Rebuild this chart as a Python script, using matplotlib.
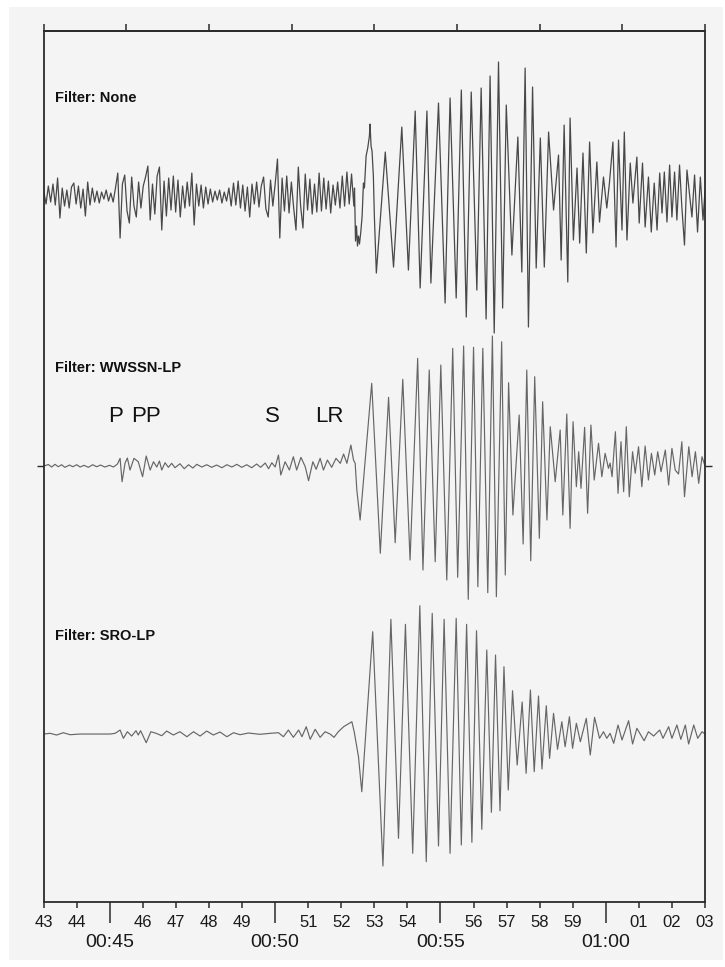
import numpy as np
import matplotlib.pyplot as plt
from matplotlib.patches import Rectangle

plt.rcParams['font.family'] = ['Liberation Sans', 'DejaVu Sans']

# trace 1, unfiltered: pre-arrival noise, one sample every NOISE_STEP minutes from 43:00
NOISE_STEP = 0.07
NONE_NOISE = [5, -8, 10, -6, 12, -9, 18, -22, 8, -10, 6, -12, 9, 13, -8, 10,
              -12, 7, -20, 14, -9, 8, -6, 5, -7, 4, -3, 6, -5, 3, -6, 8, 23,
              -42, 12, 21, -15, -27, 19, -10, -21, 14, -12, 10, 19, 30, -24,
              12, -18, 20, 29, -34, 15, -20, 18, -14, 20, -16, 16, -21, 10,
              -12, 14, -10, 23, -29, 12, -10, 11, -12, 9, -8, 7, -6, 5, -4, 6,
              -7, 4, -5, 8, -10, 13, -9, 15, -12, 11, -15, 9, -21, 12, -8, 14,
              -11, 10, 19, -13, -21, 16, -10, 12, 37, -42, 18, -15, 20, -17,
              14, -12, -34, 29, -10, -32, 22, -14, 17, -18, 12, -16, 23, -15,
              18, -13, 15, -17, 11, -9, 14, -12, 20, -10, 24, -8, 22, -10]

# trace 1 after the surface wave arrival (minutes, amplitude)
NONE_T = [52.40, 52.43, 52.46, 52.49, 52.52, 52.55, 52.59, 52.63, 52.67, 52.70,
          52.75, 52.80, 52.85, 52.87, 52.90, 52.93, 52.97, 53.00, 53.06, 53.33,
          53.58, 53.83, 54.03, 54.235, 54.385, 54.59, 54.71, 54.94, 55.14,
          55.29, 55.475, 55.63, 55.78, 55.93, 56.10, 56.23, 56.38, 56.50,
          56.625, 56.755, 56.88, 56.99, 57.16, 57.26, 57.34, 57.46, 57.56,
          57.66, 57.785, 57.895, 58.02, 58.14, 58.27, 58.42, 58.57, 58.65,
          58.74, 58.85, 58.92, 59.02, 59.13, 59.21, 59.31, 59.41, 59.51, 59.61,
          59.73, 59.81, 59.93, 60.03, 60.11, 60.215, 60.31, 60.385, 60.49,
          60.56, 60.64, 60.74, 60.82, 60.94, 61.01, 61.11, 61.19, 61.29,
          61.375, 61.465, 61.55, 61.63, 61.70, 61.77, 61.85, 61.93, 62.00,
          62.08, 62.15, 62.23, 62.30, 62.38, 62.455, 62.605, 62.685, 62.775,
          62.86, 62.94, 63.00]
NONE_AMP = [8, -45, -30, -50, -40, -48, -36, -20, 13, 8, 40, 48, 60, 72, 50,
            45, 20, -20, -77, 44, -71, 69, -74, 85, -92, 85, -87, 93, -107, 98,
            -102, 106, -121, 104, -94, 108, -123, 120, -137, 134, -112, 91,
            -59, 6, 59, -76, 128, -131, 109, -72, 58, -71, 64, -14, 41, -64,
            71, -86, 78, -44, 28, -47, 43, -57, 54, -37, 34, -26, 19, -12, 13,
            54, -51, 56, -34, 64, -44, 33, -7, 39, -27, 33, -31, 19, -36, 13,
            -34, 23, -17, 24, -26, 31, -21, 24, -24, 31, -11, -49, 26, -21, 21,
            -36, 19, -24, 5]

# trace 2, WWSSN-LP
WWSSN_T = [43.00, 43.14, 43.24, 43.34, 43.44, 43.54, 43.64, 43.78, 43.88, 44.00,
           44.10, 44.22, 44.35, 44.48, 44.60, 44.72, 44.85, 44.99, 45.11, 45.23,
           45.31, 45.37, 45.46, 45.53, 45.61, 45.73, 45.86, 45.99, 46.10, 46.22,
           46.32, 46.42, 46.50, 46.57, 46.67, 46.77, 46.87, 46.97, 47.12, 47.25,
           47.38, 47.51, 47.63, 47.78, 47.93, 48.08, 48.23, 48.39, 48.54, 48.69,
           48.84, 48.99, 49.14, 49.29, 49.44, 49.56, 49.70, 49.80, 49.90, 50.00,
           50.10, 50.17, 50.30, 50.43, 50.55, 50.65, 50.78, 50.91, 51.01, 51.14,
           51.24, 51.36, 51.46, 51.58, 51.71, 51.84, 51.97, 52.07, 52.17, 52.29,
           52.37, 52.42, 52.47, 52.57, 52.92, 53.18, 53.43, 53.63, 53.86, 54.08,
           54.31, 54.47, 54.66, 54.84, 55.01, 55.19, 55.37, 55.52, 55.70, 55.84,
           56.00, 56.13, 56.28, 56.43, 56.57, 56.69, 56.85, 56.96, 57.06, 57.19,
           57.38, 57.50, 57.61, 57.73, 57.85, 57.99, 58.09, 58.22, 58.32, 58.47,
           58.62, 58.70, 58.82, 58.92, 59.01, 59.11, 59.18, 59.25, 59.36, 59.45,
           59.55, 59.65, 59.78, 59.88, 59.98, 60.08, 60.13, 60.19, 60.29, 60.37,
           60.46, 60.54, 60.62, 60.71, 60.81, 60.89, 60.99, 61.09, 61.19, 61.29,
           61.38, 61.48, 61.57, 61.67, 61.80, 61.90, 62.00, 62.10, 62.20, 62.30,
           62.38, 62.51, 62.61, 62.71, 62.81, 62.91, 63.00]
WWSSN_AMP = [0, 1.5, -1, 1.7, -0.7, 1.3, -1.3, 1, -0.7, 1.3, -1, 0.7, -1.3, 1.3,
             -0.7, 1, -1, 0.7, -1, 2, 7.7, -15.7, 3, 8, -4, 7.7, 4.3, -10.7, 10,
             -4, 4.3, -1, 5, -4, 3.3, -1.3, 2.7, -1.7, 2.3, -2.7, 1.3, -2, 1.7,
             -1, 1.3, -1.3, 1, -1.7, 1.3, -1, 1.7, -1.3, 1.3, -1.7, 2, -1.3, 3,
             -2.7, 3.3, -1, 11, -9, 4.3, -4, 9.3, -4, 8.7, -0.7, -14.7, 4.3,
             -3.3, 7.7, -4, 6, -1.3, 7.7, 2.7, 12, 2.7, 21, 6, 2.7, -24, -54,
             82.7, -87.3, 68.7, -76.7, 86.7, -94, 107.7, -104, 96, -95.7, 101,
             -114, 117.7, -111.3, 120, -133.3, 118.7, -120.7, 117.7, -126.7,
             130, -130.7, 124.3, -109, 83.3, -49, 51, -78, 96, -94.7, 89.3,
             -72.3, 64.3, -54, 39.3, -15.7, 36, -49, 52, -62.3, 44.3, -20.7,
             14.3, -22.3, 38.7, -47.3, 41, -14, 22.7, -10.7, 12.7, -2.3, 3,
             -10.7, 34.3, -27.3, 24.3, -25.7, 39.3, -30.7, 14.3, -7.3, 19.3,
             -20.7, 20, -14, 12.7, -9, 14.3, -5.7, 16, -19, 17.7, -4, -8, 24.3,
             -30.7, 19.3, -10.7, 14.3, -17.3, 9.3, 0]

# trace 3, SRO-LP
SRO_T = [43.00, 43.19, 43.39, 43.59, 43.80, 44.10, 45.01, 45.16, 45.31, 45.41,
         45.53, 45.66, 45.79, 45.86, 45.93, 46.10, 46.24, 46.40, 46.57, 46.72,
         46.92, 47.12, 47.33, 47.53, 47.73, 47.93, 48.13, 48.33, 48.54, 48.74,
         48.94, 49.19, 49.54, 49.85, 50.10, 50.25, 50.40, 50.55, 50.71, 50.81,
         50.94, 51.06, 51.21, 51.36, 51.51, 51.66, 51.78, 51.91, 52.07, 52.32,
         52.39, 52.52, 52.62, 52.95, 53.26, 53.50, 53.73, 53.94, 54.16, 54.375,
         54.57, 54.75, 54.94, 55.11, 55.29, 55.475, 55.63, 55.79, 55.95, 56.09,
         56.25, 56.40, 56.54, 56.665, 56.80, 56.92, 57.05, 57.18, 57.32, 57.47,
         57.59, 57.72, 57.835, 57.965, 58.07, 58.20, 58.30, 58.42, 58.54, 58.67,
         58.77, 58.90, 58.995, 59.11, 59.23, 59.41, 59.53, 59.66, 59.81, 59.93,
         60.03, 60.13, 60.24, 60.37, 60.49, 60.69, 60.81, 60.94, 61.16, 61.29,
         61.445, 61.63, 61.73, 61.90, 62.00, 62.15, 62.27, 62.405, 62.505,
         62.66, 62.78, 62.91, 63.00]
SRO_AMP = [0, 0.7, -1, 1.3, -0.7, 0, 0, 0.7, 4, -4.3, 2.3, -2, 3.3, -1, 3.3,
           -8.7, 2.3, 0.7, -1.7, 3, -1, 2.3, -2.7, 2.3, -2, 3, -1, 2, -2.7, 1.3,
           -0.7, 1, -0.3, 0.7, 1.3, -2.7, 4, -3.3, 4, -2.7, 7.3, -5.3, 4.7,
           -3.3, 2.3, 0, -3.3, 2.3, 7.3, 12.3, 2.3, -22.7, -57.7, 102.3, -132,
           114.7, -104.3, 109.7, -119.3, 128.3, -127.7, 120.7, -112, 114.7,
           -119.3, 115.7, -111, 109.7, -108.3, 103.3, -95.3, 84, -78.3, 79,
           -76.7, 67.3, -56, 43.3, -31, 32, -39.3, 44, -37.7, 38, -35, 28.3,
           -24.3, 20.7, -15.3, 12.3, -12.7, 17.3, -14.3, 10.7, -7.7, 15.7, -21,
           16.7, -4.3, 2.3, -4.3, 0.7, -9.3, 9, -6, 13.3, -10, 5.7, -6.7, 2.3,
           -2, 4, -4.3, 7.3, -4.3, 9, -5.3, 9, -10, 9, -4.3, 2.3, 0]

TRACE_NAMES = ['Filter: None', 'Filter: WWSSN-LP', 'Filter: SRO-LP']
PHASES = ['P', 'PP', 'S', 'LR']
PHASE_TIMES = [45.16, 46.10, 49.91, 51.63]

MINUTE_TICKS = [43, 44, 46, 47, 48, 49, 51, 52, 53, 54, 56, 57, 58, 59, 61, 62, 63]
MINUTE_LABELS = ['43', '44', '46', '47', '48', '49', '51', '52', '53', '54',
                 '56', '57', '58', '59', '01', '02', '03']
CLOCK_TICKS = [45, 50, 55, 60]
CLOCK_LABELS = ['00:45', '00:50', '00:55', '01:00']
TOP_TICKS = [43, 45.5, 48, 50.5, 53, 55.5, 58, 60.5, 63]

# vertical layout: trace baselines, in the same units as the amplitudes
OFFSETS = [-196, -466, -734]
BG = '#f4f4f4'
FRAME = '#2b2b2b'


def draw():
    fig = plt.figure(figsize=(7.25, 9.67), dpi=100, facecolor='white')
    fig.patches.append(Rectangle((9 / 725, 1 - 960 / 967), 714 / 725, 953 / 967,
                                 transform=fig.transFigure, facecolor=BG,
                                 edgecolor='none', zorder=-10))
    ax = fig.add_axes([0.0603, 0.0672, 0.9121, 0.9007])
    ax.set_facecolor(BG)

    noise_t = 43.0 + NOISE_STEP * np.arange(len(NONE_NOISE))
    t1 = np.concatenate([noise_t, NONE_T])
    a1 = np.concatenate([NONE_NOISE, NONE_AMP])
    ax.plot(t1, a1 + OFFSETS[0], color='#484848', lw=0.9,
            solid_joinstyle='round')
    ax.plot(WWSSN_T, np.array(WWSSN_AMP) + OFFSETS[1], color='#666666',
            lw=0.85, solid_joinstyle='round')
    ax.plot(SRO_T, np.array(SRO_AMP) + OFFSETS[2], color='#666666', lw=0.85,
            solid_joinstyle='round')

    for name, off in zip(TRACE_NAMES, OFFSETS):
        ax.text(43.34, off + 98, name, fontsize=10.5, fontweight='bold',
                va='center', ha='left', color='#111111')
    for ph, t in zip(PHASES, PHASE_TIMES):
        ax.text(t, OFFSETS[1] + 50, ph, fontsize=16, va='center',
                ha='center', color='#111111')

    ax.set_xlim(43, 63)
    ax.set_ylim(-902, -31)

    ax.set_xticks(MINUTE_TICKS, labels=MINUTE_LABELS)
    ax.set_xticks(CLOCK_TICKS, labels=CLOCK_LABELS, minor=True)
    ax.tick_params(axis='x', which='major', length=4.5, width=1.1, pad=5,
                   labelsize=12, color=FRAME, labelcolor='#1a1a1a')
    ax.tick_params(axis='x', which='minor', length=15, width=1.1, pad=8,
                   labelsize=14, color=FRAME, labelcolor='#1a1a1a')
    ax.set_yticks([OFFSETS[1]], labels=[''])
    ax.tick_params(axis='y', left=True, right=True, length=5, width=1.0,
                   color=FRAME)

    sec = ax.secondary_xaxis('top')
    sec.set_xticks(TOP_TICKS)
    sec.tick_params(length=5, width=1.1, labeltop=False, color=FRAME)
    sec.spines['top'].set_color(FRAME)
    sec.spines['top'].set_linewidth(1.3)

    for s in ax.spines.values():
        s.set_color(FRAME)
        s.set_linewidth(1.3)

    fig.savefig('out.png', dpi=100, facecolor='white')
    plt.close(fig)


draw()
